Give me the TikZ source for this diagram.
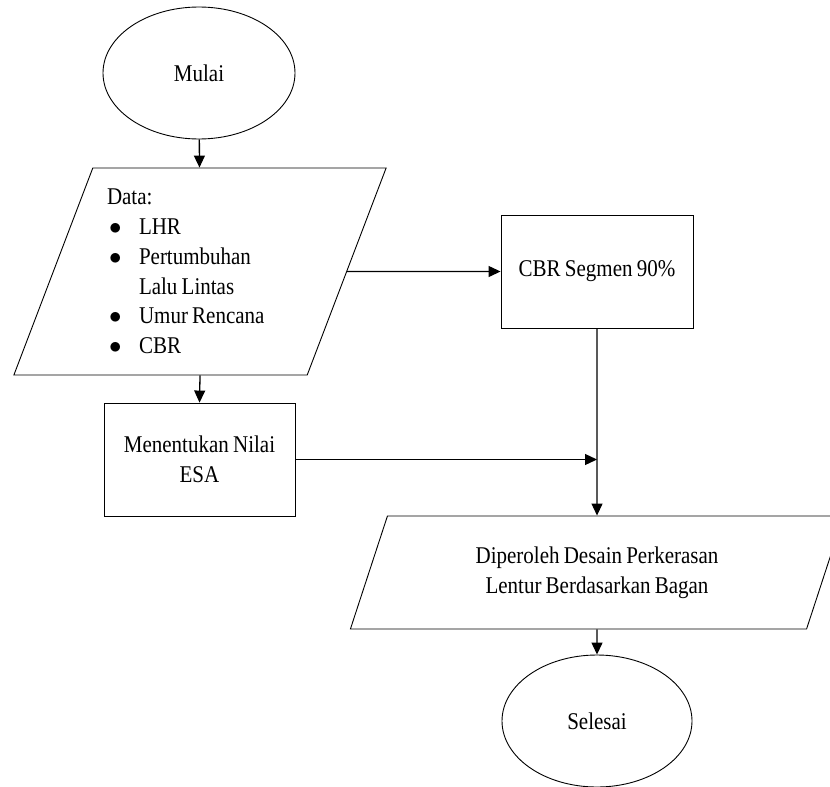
\documentclass[tikz,border=0pt]{standalone}
\usepackage{fontspec}
\setmainfont{Liberation Serif}[FakeStretch=0.875,WordSpace=0.8]
\usetikzlibrary{arrows.meta}
\usetikzlibrary{positioning}
\usetikzlibrary{shapes.geometric}
\tikzset{
  terminal/.style={draw,ellipse,line width=0.9pt,minimum width=192pt,minimum height=132pt,inner sep=0pt},
  proses/.style={draw,rectangle,line width=0.9pt,minimum width=192pt,minimum height=113pt,inner sep=0pt,align=center},
  masukan/.style={draw,trapezium,trapezium left angle=67.4,trapezium right angle=112.6,
    trapezium stretches=true,line width=0.9pt,inner sep=0pt},
  panah/.style={line width=1.3pt,-{Triangle[length=12pt,width=11pt]}}
}
\newcommand{\butir}{\makebox[32pt][l]{\hspace{2pt}$\bullet$}}
\begin{document}
\begin{tikzpicture}[x=1pt,y=-1pt,font=\fontsize{24}{29.7}\selectfont]
  \useasboundingbox (0,0) rectangle (830,787);

  \node[terminal] (mulai) at (199,73) {Mulai};
  \node[masukan,minimum width=374pt,minimum height=207pt,text width=186pt,align=flush left]
    (data) at (200,271.5) {Data:\\
      \butir LHR\\
      \butir Pertumbuhan\\
      \hspace*{32pt}Lalu Lintas\\
      \butir Umur Rencana\\
      \butir CBR};
  \node[proses] (cbr) at (597,271.5) {CBR Segmen 90\%};
  \node[proses,minimum width=191pt] (esa) at (199.5,459.5) {Menentukan Nilai\\ESA};
  \node[masukan,minimum width=494pt,minimum height=113pt,align=center]
    (hasil) at (597,572.5) {Diperoleh Desain Perkerasan\\Lentur Berdasarkan Bagan};
  \node[terminal,minimum width=190pt] (selesai) at (597,721) {Selesai};

  \coordinate (temu) at (cbr.south |- esa.east);

  \draw[panah] (mulai) -- (data);
  \draw[panah] (data.east) -- (cbr.west);
  \draw[panah] (data.south) -- (esa.north);
  \draw[panah] (cbr.south) -- (hasil.north);
  \draw[panah] (esa.east) -- (temu);
  \draw[panah] (hasil.south) -- (selesai.north);
\end{tikzpicture}
\end{document}
